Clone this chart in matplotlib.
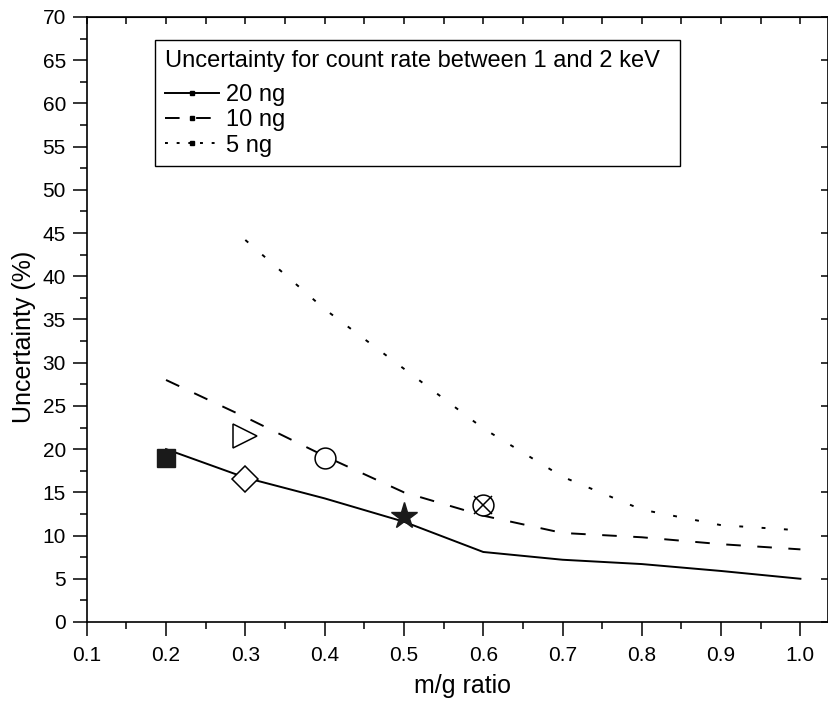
import numpy as np
import matplotlib
matplotlib.use("Agg")
import matplotlib.pyplot as plt
from matplotlib.lines import Line2D

plt.rcParams['font.family'] = ['Liberation Sans', 'DejaVu Sans']

# m/g ratio
x = [0.2, 0.3, 0.4, 0.5, 0.6, 0.7, 0.8, 0.9, 1.0]
u20 = [20.0, 16.7, 14.3, 11.6, 8.1, 7.2, 6.7, 5.9, 5.0]
u10 = [28.0, 23.7, 19.2, 15.0, 12.3, 10.3, 9.8, 9.0, 8.4]
x5 = [0.3, 0.4, 0.5, 0.6, 0.7, 0.8, 0.9, 1.0]
u5 = [44.2, 36.2, 29.3, 22.4, 16.8, 13.0, 11.2, 10.6]

# single measured points
pts_x = [0.2, 0.3, 0.3, 0.4, 0.5, 0.6]
pts_y = [19.0, 16.5, 21.5, 19.0, 12.3, 13.5]

labels = ['20 ng', '10 ng', '5 ng']
title = 'Uncertainty for count rate between 1 and 2 keV'

fig = plt.figure(figsize=(8.29, 7.02), dpi=100)
ax = fig.add_axes([0.1046, 0.1140, 0.8944, 0.8618])

lw = 1.4
ax.plot(x, u20, color='black', lw=lw, zorder=2)
ax.plot(x, u10, color='black', lw=lw, dashes=(7.5, 8.5), zorder=2)
ax.plot(x5, u5, color='black', lw=lw, dashes=(2, 9.5), zorder=2)

# markers
ax.plot(pts_x[0], pts_y[0], marker='s', ms=13, color='#1a1a1a', ls='none', zorder=3)
ax.plot(pts_x[1], pts_y[1], marker='D', ms=13, mfc='white', mec='black', mew=1.1, ls='none', zorder=3)
ax.plot(pts_x[2], pts_y[2], marker='>', ms=17, mfc='white', mec='black', mew=1.1, ls='none', zorder=3)
ax.plot(pts_x[3], pts_y[3], marker='o', ms=15, mfc='white', mec='black', mew=1.1, ls='none', zorder=3)
ax.plot(pts_x[4], pts_y[4], marker='*', ms=20, color='#1a1a1a', ls='none', zorder=3)
ax.plot(pts_x[5], pts_y[5], marker='o', ms=15, mfc='white', mec='black', mew=1.1, ls='none', zorder=3)
ax.plot(pts_x[5], pts_y[5], marker='x', ms=13, mec='black', mew=1.1, ls='none', zorder=4)

ax.set_xlim(0.1, 1.035)
ax.set_ylim(0, 70)
ax.set_xticks(np.arange(0.1, 1.01, 0.1))
ax.set_xticks(np.arange(0.15, 1.03, 0.1), minor=True)
ax.set_yticks(np.arange(0, 71, 5))
ax.set_yticks(np.arange(2.5, 70, 5), minor=True)
ax.set_xticklabels(['%.1f' % v for v in np.arange(0.1, 1.01, 0.1)])

ax.tick_params(which='major', direction='out', length=10, width=1.1, labelsize=15, pad=5)
ax.tick_params(axis='x', which='major', pad=7)
ax.tick_params(which='minor', direction='out', length=5, width=1.1)
for s in ax.spines.values():
    s.set_linewidth(1.2)

top = ax.secondary_xaxis('top')
top.set_xticks(np.arange(0.1, 1.01, 0.1))
top.set_xticks(np.arange(0.15, 1.03, 0.1), minor=True)
top.tick_params(which='both', direction='in', length=5, width=1.1, labeltop=False)
right = ax.secondary_yaxis('right')
right.set_yticks(np.arange(0, 71, 5))
right.tick_params(direction='in', length=5, width=1.1, labelright=False)

ax.set_xlabel('m/g ratio', fontsize=18)
ax.set_ylabel('Uncertainty (%)', fontsize=18)
ax.xaxis.set_label_coords(0.507, -0.086)
ax.yaxis.set_label_coords(-0.068, 0.472)

handles = [
    Line2D([], [], color='black', lw=lw, marker='s', ms=3.5),
    Line2D([], [], color='black', lw=lw, dashes=(7.5, 8.5), marker='s', ms=3.5),
    Line2D([], [], color='black', lw=lw, dashes=(1.5, 4.5), marker='s', ms=3),
]
leg = ax.legend(handles, labels, title=title, loc='upper left',
                bbox_to_anchor=(0.092, 0.962, 0.708, 0), mode='expand',
                fontsize=17, title_fontsize=17, alignment='left',
                frameon=True, fancybox=False, edgecolor='black', framealpha=1,
                handlelength=2.3, handletextpad=0.28, labelspacing=0.13,
                borderpad=0.42, borderaxespad=0, numpoints=1)
leg.get_frame().set_linewidth(1.0)
# a bit more room between the title and the entries
leg._legend_box.sep = 9

fig.savefig('out.png', dpi=100)
